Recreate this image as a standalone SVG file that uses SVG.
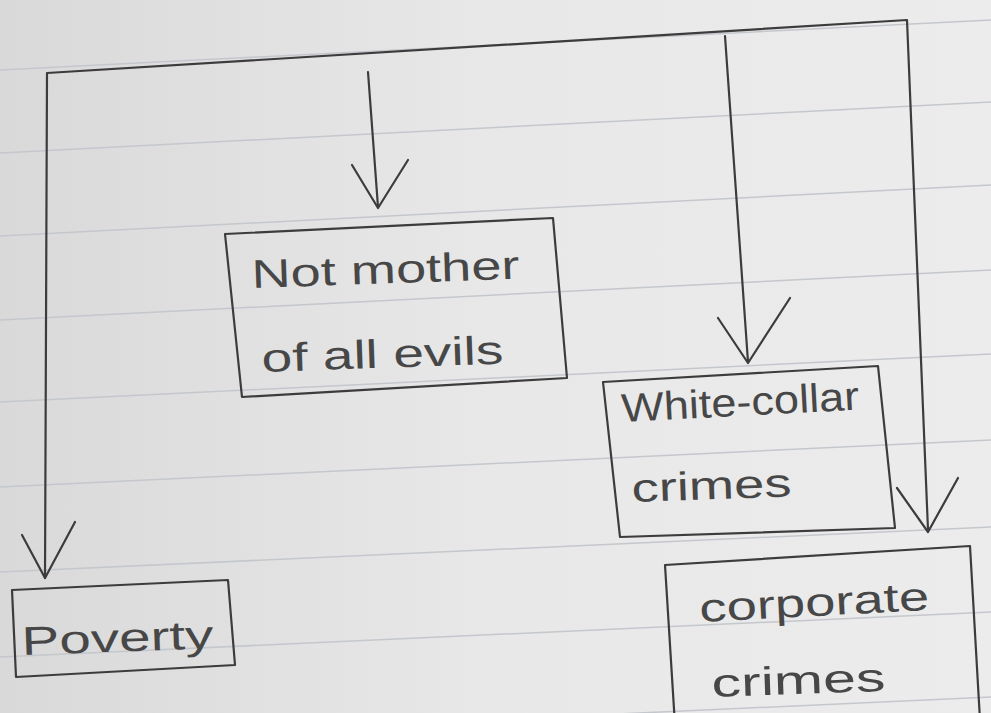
<svg xmlns="http://www.w3.org/2000/svg" width="991" height="713" viewBox="0 0 991 713">
<defs>
<linearGradient id="paper" x1="0" y1="0" x2="1" y2="0">
<stop offset="0" stop-color="#d9d9d9"/>
<stop offset="0.5" stop-color="#e8e8e8"/>
<stop offset="1" stop-color="#ececec"/>
</linearGradient>
<style>
.rule{stroke:#c4c7cc;stroke-width:1.5;fill:none}
.pen{stroke:#3c3c3c;stroke-width:2.2;fill:none;stroke-linecap:round;stroke-linejoin:round}
.box{stroke:#3c3c3c;stroke-width:2.2;fill:none;stroke-linejoin:round}
.lbl{font-family:"Liberation Sans","DejaVu Sans",sans-serif;font-size:40px;fill:#474747}
</style>
</defs>
<rect width="991" height="713" fill="url(#paper)"/>
<g id="ruling">
<line class="rule" x1="0" y1="70" x2="991" y2="20"/>
<line class="rule" x1="0" y1="153" x2="991" y2="102"/>
<line class="rule" x1="0" y1="236" x2="991" y2="185"/>
<line class="rule" x1="0" y1="320" x2="991" y2="270"/>
<line class="rule" x1="0" y1="402" x2="991" y2="354"/>
<line class="rule" x1="0" y1="487" x2="991" y2="440"/>
<line class="rule" x1="0" y1="572" x2="991" y2="527"/>
<line class="rule" x1="0" y1="657" x2="991" y2="612"/>
<line class="rule" x1="0" y1="742" x2="991" y2="697"/>
</g>
<g id="connectors">
<polyline class="pen" points="45,578 47,73 907,20 928,530"/>
<polyline class="pen" points="22,535 45,578 75,522"/>
<line class="pen" x1="368" y1="72" x2="378" y2="207"/>
<polyline class="pen" points="352,165 378,208 408,160"/>
<line class="pen" x1="725" y1="36" x2="748" y2="362"/>
<polyline class="pen" points="718,318 748,363 790,298"/>
<polyline class="pen" points="897,488 928,532 958,478"/>
</g>
<g id="node-evils">
<polygon class="box" points="225,234 553,218 567,378 242,397"/>
<text class="lbl" x="252" y="288" textLength="268" lengthAdjust="spacingAndGlyphs" transform="rotate(-2 252 288)">Not mother</text>
<text class="lbl" x="262" y="372" textLength="242" lengthAdjust="spacingAndGlyphs" transform="rotate(-2 262 372)">of all evils</text>
</g>
<g id="node-whitecollar">
<polygon class="box" points="603,382 878,366 895,528 620,537"/>
<text class="lbl" x="622" y="422" textLength="238" lengthAdjust="spacingAndGlyphs" transform="rotate(-3 622 422)">White-collar</text>
<text class="lbl" x="632" y="502" textLength="160" lengthAdjust="spacingAndGlyphs" transform="rotate(-2 632 502)">crimes</text>
</g>
<g id="node-poverty">
<polygon class="box" points="12,590 228,580 235,665 16,677"/>
<text class="lbl" x="22" y="655" textLength="192" lengthAdjust="spacingAndGlyphs" transform="rotate(-2 22 655)">Poverty</text>
</g>
<g id="node-corporate">
<polygon class="box" points="665,565 970,546 980,720 675,725"/>
<text class="lbl" x="700" y="622" textLength="230" lengthAdjust="spacingAndGlyphs" transform="rotate(-3 700 622)">corporate</text>
<text class="lbl" x="712" y="697" textLength="174" lengthAdjust="spacingAndGlyphs" transform="rotate(-2 712 697)">crimes</text>
</g>
</svg>
